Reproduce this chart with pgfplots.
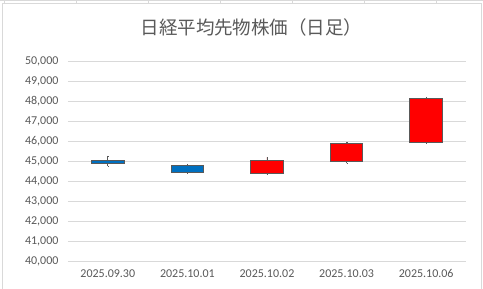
\documentclass[border=0pt]{standalone}
\usepackage{fontspec}
\setmainfont{Carlito}
\newfontfamily\jp{Noto Sans CJK JP}
\usepackage{pgfplots}
\pgfplotsset{compat=1.18}
\usepgfplotslibrary{statistics}
\definecolor{txt}{HTML}{595959}
\definecolor{grd}{HTML}{D9D9D9}
\definecolor{up}{HTML}{FF0000}
\definecolor{down}{HTML}{0070C0}
\definecolor{edge}{HTML}{595959}
\begin{document}
\begin{tikzpicture}
\useasboundingbox (0pt,0pt) rectangle (483pt,289pt);
\fill[white] (0pt,0pt) rectangle (483pt,289pt);
% sheet cell lines and chart frame
\draw[grd,line width=0.8pt] (0pt,288.6pt) -- (483pt,288.6pt);
\foreach \xx in {4.7,76,148,220,292,364,436} \draw[grd,line width=0.8pt] (\xx pt,289pt) -- (\xx pt,286pt);
\draw[grd,line width=0.8pt] (2pt,-1pt) -- (2pt,286pt) -- (481pt,286pt) -- (481pt,-1pt);
\node[font=\jp\fontsize{18.5}{20}\selectfont, text=txt] at (251.5pt,261.5pt) {日経平均先物株価（日足）};
\begin{axis}[
  at={(68pt,28pt)}, anchor=south west,
  scale only axis, width=398pt, height=200pt,
  xmin=-0.5, xmax=4.5, ymin=40000, ymax=50000,
  ytick distance=1000,
  scaled y ticks=false,
  xtick={0,1,2,3,4},
  xticklabels={2025.09.30,2025.10.01,2025.10.02,2025.10.03,2025.10.06},
  /pgf/number format/.cd, 1000 sep={,}, assume math mode=true,
  /pgfplots/.cd,
  tick label style={font=\fontsize{12}{14}\selectfont, text=txt},
  yticklabel style={xshift=-6pt},
  xticklabel style={yshift=-5pt},
  axis line style={draw=none},
  major tick length=0pt,
  ymajorgrids, grid style={grd, line width=0.8pt},
  boxplot/draw direction=y,
  boxplot/box extend=0.41,
  boxplot/whisker extend=0.001,
  boxplot/every box/.style={draw=edge, line width=0.9pt},
  boxplot/every whisker/.style={draw=edge, line width=0.9pt},
  boxplot/every median/.style={draw=edge, line width=0.9pt},
  clip=false,
]
% candle: low, min(open,close), max(open,close), high
\addplot[fill=down, draw=edge, boxplot prepared={draw position=0, lower whisker=44750, lower quartile=44870, median=44870, upper quartile=45050, upper whisker=45250}] coordinates {};
\addplot[fill=down, draw=edge, boxplot prepared={draw position=1, lower whisker=44400, lower quartile=44450, median=44450, upper quartile=44800, upper whisker=44850}] coordinates {};
\addplot[fill=up, draw=edge, boxplot prepared={draw position=2, lower whisker=44330, lower quartile=44380, median=44380, upper quartile=45030, upper whisker=45180}] coordinates {};
\addplot[fill=up, draw=edge, boxplot prepared={draw position=3, lower whisker=44880, lower quartile=44983, median=44983, upper quartile=45883, upper whisker=45950}] coordinates {};
\addplot[fill=up, draw=edge, boxplot prepared={draw position=4, lower whisker=45880, lower quartile=45950, median=45950, upper quartile=48133, upper whisker=48200}] coordinates {};
\end{axis}
\end{tikzpicture}
\end{document}
